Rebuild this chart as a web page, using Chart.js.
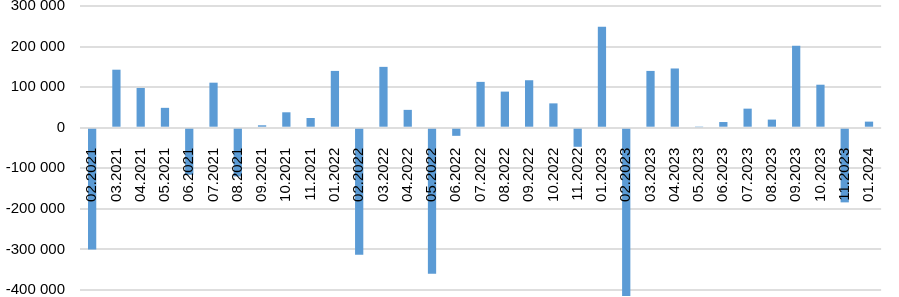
<!DOCTYPE html>
<html>
<head>
<meta charset="utf-8">
<script src="https://cdn.jsdelivr.net/npm/chart.js@4"></script>
<style>
  html, body { margin: 0; padding: 0; background: #fff; }
  #wrap { width: 899px; height: 297px; }
</style>
</head>
<body>
<div id="wrap"><canvas id="chart" width="899" height="297"></canvas></div>
<script>
// --- Dados do gráfico ---
const months = [
    '02.2021', '03.2021', '04.2021', '05.2021', '06.2021', '07.2021', '08.2021', '09.2021', '10.2021', '11.2021',
    '01.2022', '02.2022', '03.2022', '04.2022', '05.2022', '06.2022', '07.2022', '08.2022', '09.2022', '10.2022', '11.2022',
    '01.2023', '02.2023', '03.2023', '04.2023', '05.2023', '06.2023', '07.2023', '08.2023', '09.2023', '10.2023', '11.2023',
    '01.2024'
];
const values = [
    -300000, 143000, 98000, 49000, -116000, 111000, -120000, 6000, 38000, 24000,
    140000, -313000, 150000, 44000, -360000, -20000, 113000, 89000, 117000, 60000, -47000,
    249000, -415000, 140000, 146000, 1500, 14000, 47000, 20000, 202000, 106000, -184000,
    15000
];
const yTicks = [-400000, -300000, -200000, -100000, 0, 100000, 200000, 300000];

// formata 300000 -> "300 000"
function formatThousands(v) {
    const sign = v < 0 ? '-' : '';
    const s = String(Math.abs(v));
    return sign + s.replace(/\B(?=(\d{3})+(?!\d))/g, ' ');
}

const ctx = document.getElementById('chart').getContext('2d');
new Chart(ctx, {
    type: 'bar',
    data: {
        labels: months,
        datasets: [{
            data: values,
            backgroundColor: '#5b9bd5',
            borderWidth: 0,
            categoryPercentage: 1,
            barPercentage: 0.34,
            clip: false
        }]
    },
    options: {
        responsive: false,
        animation: false,
        layout: { padding: { top: 6, bottom: 7, left: 0, right: 0 } },
        plugins: { legend: { display: false }, tooltip: { enabled: false } },
        scales: {
            x: {
                position: { y: 0 },
                grid: { display: false },
                border: { display: false },
                ticks: {
                    z: 1, // rótulos por cima das barras
                    autoSkip: false,
                    minRotation: 90,
                    maxRotation: 90,
                    padding: 12,
                    color: '#000',
                    font: { family: '"Liberation Sans", Arial, sans-serif', size: 15 }
                }
            },
            y: {
                min: -400000,
                max: 300000,
                afterBuildTicks: (scale) => { scale.ticks = yTicks.map(v => ({ value: v })); },
                afterFit: (scale) => { scale.width = 80; scale.paddingTop = 0; scale.paddingBottom = 0; },
                grid: { color: '#dedede', lineWidth: 2, drawTicks: false },
                border: { display: false },
                ticks: {
                    padding: 15,
                    color: '#000',
                    font: { family: '"Liberation Sans", Arial, sans-serif', size: 15 },
                    callback: (v) => formatThousands(v)
                }
            }
        }
    }
});
</script>
</body>
</html>
